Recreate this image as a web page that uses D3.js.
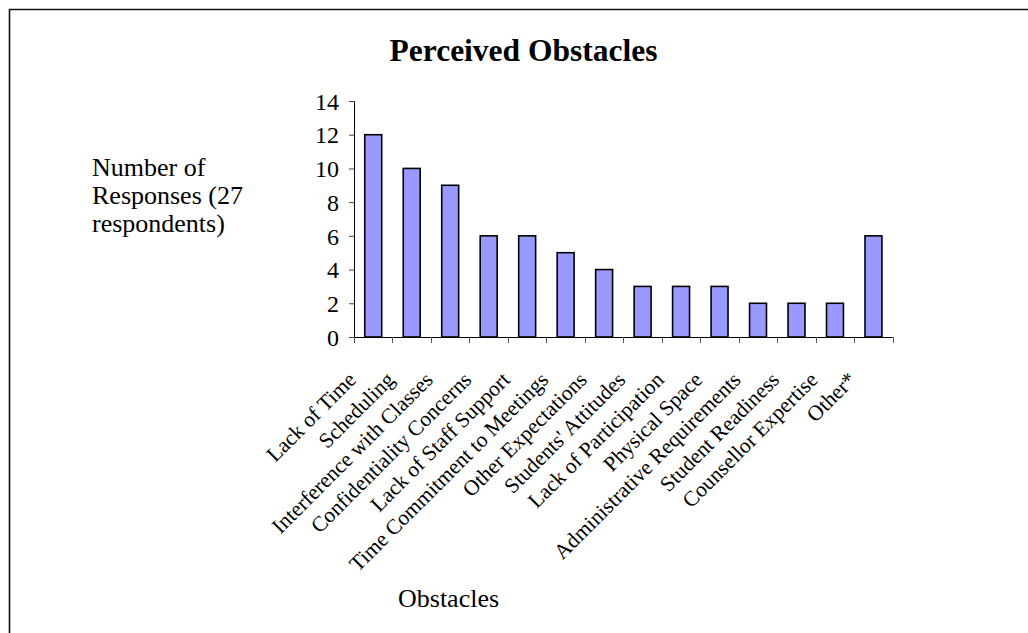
<!DOCTYPE html>
<html>
<head>
<meta charset="utf-8">
<script src="https://cdn.jsdelivr.net/npm/d3@7"></script>
<style>
  html, body { margin: 0; padding: 0; background: #fff; }
  svg { display: block; }
  text { font-family: "Liberation Serif", "Times New Roman", serif; fill: #000; }
</style>
</head>
<body>
<svg id="chart" width="1028" height="633"></svg>
<script>
// Obstacle categories and the number of responses for each
const categories = [
  "Lack of Time", "Scheduling", "Interference with Classes",
  "Confidentiality Concerns", "Lack of Staff Support",
  "Time Commitment to Meetings", "Other Expectations",
  "Students' Attitudes", "Lack of Participation", "Physical Space",
  "Administrative Requirements", "Student Readiness",
  "Counsellor Expertise", "Other*"
];
const responses = [12, 10, 9, 6, 6, 5, 4, 3, 3, 3, 2, 2, 2, 6];
const yTicks = [0, 2, 4, 6, 8, 10, 12, 14];
const titleText = "Perceived Obstacles";
const yLabelLines = ["Number of", "Responses (27", "respondents)"];
const xLabelText = "Obstacles";

const svg = d3.select("#chart");

// Outer frame (open to the right and bottom)
svg.append("path")
  .attr("d", "M9.5,640 L9.5,9.5 L1040,9.5")
  .attr("fill", "none")
  .attr("stroke", "#111")
  .attr("stroke-width", 1.6);

const plot = { left: 354, right: 892.7, top: 101, bottom: 337 };

const x = d3.scaleBand()
  .domain(categories)
  .range([plot.left, plot.right])
  .paddingInner(0.56)
  .paddingOuter(0.28);

const y = d3.scaleLinear()
  .domain([0, 14])
  .range([plot.bottom, plot.top]);

// Bars
svg.append("g")
  .selectAll("rect")
  .data(categories)
  .join("rect")
  .attr("x", d => x(d))
  .attr("y", (d, i) => y(responses[i]))
  .attr("width", x.bandwidth())
  .attr("height", (d, i) => y(0) - y(responses[i]))
  .attr("fill", "#9999FF")
  .attr("stroke", "#000")
  .attr("stroke-width", 1.6);

// Y axis
const yAxis = svg.append("g")
  .attr("transform", `translate(${plot.left},0)`)
  .call(d3.axisLeft(y).tickValues(yTicks).tickSize(5).tickPadding(10).tickFormat(d3.format("d")));
yAxis.select(".domain").attr("stroke", "#000");
yAxis.selectAll(".tick line").attr("stroke", "#444");
yAxis.selectAll(".tick text")
  .attr("font-size", 24)
  .attr("font-family", "Liberation Serif, serif")
  .attr("dy", "0.34em");

// X axis: ticks at category boundaries
const boundaries = d3.range(categories.length + 1).map(i => plot.left + i * (plot.right - plot.left) / categories.length);
const xg = svg.append("g");
xg.append("line")
  .attr("x1", plot.left).attr("x2", plot.right)
  .attr("y1", plot.bottom + 0.5).attr("y2", plot.bottom + 0.5)
  .attr("stroke", "#000");
xg.selectAll("line.tick")
  .data(boundaries)
  .join("line")
  .attr("class", "tick")
  .attr("x1", d => Math.round(d) + 0.5).attr("x2", d => Math.round(d) + 0.5)
  .attr("y1", plot.bottom).attr("y2", plot.bottom + 6)
  .attr("stroke", "#555");

// Rotated category labels
xg.selectAll("text.cat")
  .data(categories)
  .join("text")
  .attr("class", "cat")
  .attr("font-size", 21.5)
  .attr("text-anchor", "end")
  .attr("transform", d => {
    const cx = x(d) + x.bandwidth() / 2;
    return `translate(${cx - 16},${plot.bottom + 44}) rotate(-45)`;
  })
  .text(d => d);

// Title
svg.append("text")
  .attr("x", 523.5)
  .attr("y", 61)
  .attr("text-anchor", "middle")
  .attr("font-size", 31.5)
  .attr("font-weight", "bold")
  .text(titleText);

// Y axis label (three lines)
svg.append("text")
  .attr("x", 92)
  .attr("y", 176)
  .attr("font-size", 26)
  .selectAll("tspan")
  .data(yLabelLines)
  .join("tspan")
  .attr("x", 92)
  .attr("dy", (d, i) => i === 0 ? 0 : 28)
  .text(d => d);

// X axis label
svg.append("text")
  .attr("x", 398)
  .attr("y", 607)
  .attr("font-size", 26)
  .text(xLabelText);
</script>
</body>
</html>
